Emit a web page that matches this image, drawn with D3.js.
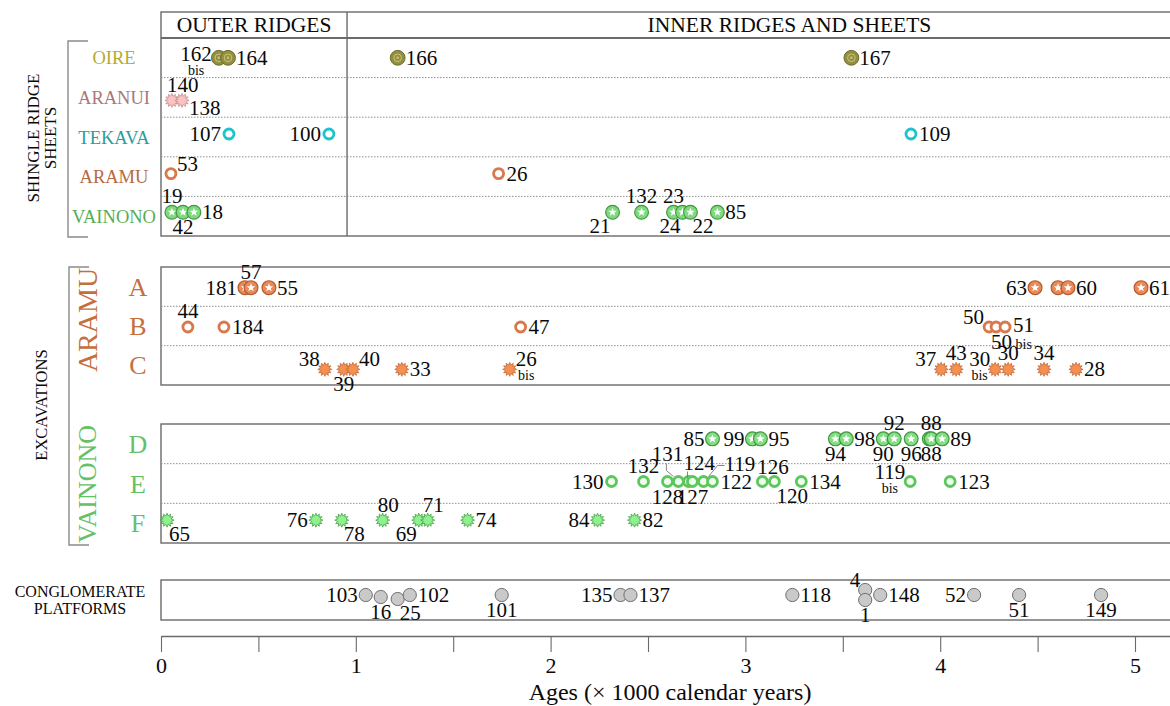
<!DOCTYPE html>
<html><head><meta charset="utf-8">
<script src="https://cdn.jsdelivr.net/npm/d3@7/dist/d3.min.js"></script>
<style>
body{margin:0;background:#fff}
text{font-family:"Liberation Serif","Times New Roman",serif;fill:#0a0a0a}
</style>
</head><body>
<svg id="c" width="1170" height="706"></svg>
<script>
// ---------------- DATA ----------------
const columnHeads = ['OUTER RIDGES', 'INNER RIDGES AND SHEETS'];
const outerInnerLimit = 0.955;            // age (ka) separating outer from inner ridges
const shingleRows = ['OIRE', 'ARANUI', 'TEKAVA', 'ARAMU', 'VAINONO'];
const aramuRows = ['A', 'B', 'C'];
const vainonoRows = ['D', 'E', 'F'];
const axisTicks = [0, 0.5, 1, 1.5, 2, 2.5, 3, 3.5, 4, 4.5, 5, 5.5];
const axisTitle = 'Ages (\u00d7 1000 calendar years)';

// shingle ridge sheets
const oireIds   = ['162bis', '164', '166', '167'];
const oireAges  = [0.297, 0.344, 1.215, 3.544];
const aranuiIds  = ['140', '138'];
const aranuiAges = [0.056, 0.108];
const tekavaIds  = ['107', '100', '109'];
const tekavaAges = [0.349, 0.862, 3.85];
const aramuShIds  = ['53', '26'];
const aramuShAges = [0.051, 1.733];
const vainonoShIds  = ['19', '42', '18', '21', '132', '23', '24', '22', '85'];
const vainonoShAges = [0.056, 0.113, 0.169, 2.318, 2.467, 2.631, 2.677, 2.718, 2.856];

// excavations - Aramu
const aIds  = ['181', '57', '55', '63', '60', '60', '61'];
const aAges = [0.431, 0.462, 0.554, 4.487, 4.605, 4.656, 5.031];
const bIds  = ['44', '184', '47', '50', '50bis', '51'];
const bAges = [0.138, 0.323, 1.846, 4.251, 4.287, 4.333];
const cIds  = ['38', '39', '40', '33', '26bis', '37', '43', '30bis', '30', '34', '28'];
const cAges = [0.841, 0.938, 0.985, 1.236, 1.79, 4.005, 4.082, 4.282, 4.349, 4.533, 4.697];

// excavations - Vainono
const dIds  = ['85', '99', '95', '94', '98', '90', '92', '96', '88', '88', '89'];
const dAges = [2.831, 3.036, 3.077, 3.462, 3.518, 3.708, 3.764, 3.851, 3.944, 3.954, 4.01];
const eIds  = ['130', '132', '128', '131', '124', '127', '119', '122', '126', '120', '134', '119bis', '123'];
const eAges = [2.313, 2.477, 2.6, 2.656, 2.708, 2.728, 2.785, 2.831, 3.087, 3.149, 3.287, 3.846, 4.051];
const fIds  = ['65', '76', '78', '80', '69', '71', '74', '84', '82'];
const fAges = [0.031, 0.795, 0.928, 1.138, 1.323, 1.369, 1.574, 2.241, 2.431];

// conglomerate platforms
const congIds  = ['103', '16', '25', '102', '101', '135', '137', '118', '4', '1', '148', '52', '51', '149'];
const congAges = [1.051, 1.128, 1.215, 1.277, 1.749, 2.359, 2.41, 3.241, 3.615, 3.615, 3.692, 4.174, 4.405, 4.826];

// ---------------- LABEL LAYOUT (placement codes, not data) ----------------
const oirePos = ['lm', 'r', 'r', 'r'];
const aranuiPos = ['ar', 'rd'];
const tekavaPos = ['l', 'l', 'r'];
const aramuShPos = ['ru', 'r'];
const vainonoShPos = ['a', 'b', 'r', 'bl', 'a', 'a', 'bl', 'br', 'r'];
const aPos = ['l', 'a', 'r', 'l', 'n', 'r', 'r'];
const bPos = ['a', 'r', 'r', 'lu', 'bi', 'rr'];
const cPos = ['lu', 'b', 'ru', 'r', 'ru', 'lu', 'a', 'lu', 'a', 'a', 'r'];
const dPos = ['l', 'l', 'r', 'b', 'r', 'b', 'a', 'b', 'bb', 'a', 'r'];
const ePos = ['l', 'a', 'b', 'L', 'V', 'b', 'R', 'r', 'ar', 'br', 'r', 'lu', 'r'];
const fPos = ['br', 'l', 'br', 'ar', 'bl', 'ar', 'r', 'l', 'r'];
const congPos = ['l', 'b', 'br', 'r', 'b', 'l', 'r', 'r', 'lu', 'b', 'r', 'l', 'b', 'b'];
const congNudge = [0, 2, 4, 0, 0, 0, 0, 0, -5, 5, 0, 0, 0, 0];

// ---------------- SCALES & LAYOUT ----------------
const svg = d3.select('#c');
const X0 = 161, PX = 194.8;
const x = d3.scaleLinear().domain([0, 5.6]).range([X0, X0 + 5.6 * PX]);
const XR = x(5.6);

const yShingle = d3.scaleBand().domain(shingleRows).range([38, 236]);
const yAramu = d3.scaleBand().domain(aramuRows).range([267, 385]);
const yVainono = d3.scaleBand().domain(vainonoRows).range([424, 543]);
const yCong = d3.scaleBand().domain(['CONG']).range([580, 620]);

const BORDER = '#6a6a6a';
function frame(top, bottom) {
  svg.append('rect').attr('x', X0).attr('y', top).attr('width', XR - X0).attr('height', bottom - top)
    .attr('fill', 'none').attr('stroke', BORDER).attr('stroke-width', 1.4);
}
function dividers(band) {
  band.domain().slice(1).forEach(r => {
    svg.append('line').attr('x1', X0).attr('x2', XR).attr('y1', band(r)).attr('y2', band(r))
      .attr('stroke', '#8f8f8f').attr('stroke-width', 1).attr('stroke-dasharray', '1.5,1.5');
  });
}

// shingle panel
frame(12, 236);
svg.append('line').attr('x1', X0).attr('x2', XR).attr('y1', 38).attr('y2', 38).attr('stroke', BORDER).attr('stroke-width', 2.2);
dividers(yShingle);
svg.append('line').attr('x1', x(outerInnerLimit)).attr('x2', x(outerInnerLimit)).attr('y1', 12).attr('y2', 236)
  .attr('stroke', BORDER).attr('stroke-width', 1.4);
svg.append('text').attr('x', (X0 + x(outerInnerLimit)) / 2).attr('y', 32).attr('text-anchor', 'middle')
  .style('font-size', '21.5px').text(columnHeads[0]);
svg.append('text').attr('x', (x(outerInnerLimit) + XR) / 2 - 10).attr('y', 32).attr('text-anchor', 'middle')
  .style('font-size', '21.5px').text(columnHeads[1]);

frame(267, 385); dividers(yAramu);
frame(424, 543); dividers(yVainono);
frame(580, 620);

// brackets
function bracket(xb, top, bottom) {
  svg.append('path').attr('d', `M${xb + 20},${top}H${xb}V${bottom}H${xb + 20}`)
    .attr('fill', 'none').attr('stroke', '#8a8a8a').attr('stroke-width', 1.4);
}
bracket(68, 41, 237);
bracket(69, 267, 545);

// row colours
const rowColor = { OIRE: '#b3ac2c', ARANUI: '#a87878', TEKAVA: '#2a9d9d', ARAMU: '#b8683e', VAINONO: '#55ad55' };
const aramuCol = '#c46f3e', vainonoCol = '#66c066';

shingleRows.forEach(r => {
  svg.append('text').attr('x', 114).attr('y', yShingle(r) + yShingle.bandwidth() / 2 + 6.5)
    .attr('text-anchor', 'middle').style('font-size', '18.5px').style('fill', rowColor[r]).text(r);
});
aramuRows.forEach(r => {
  svg.append('text').attr('x', 138).attr('y', yAramu(r) + yAramu.bandwidth() / 2 + 9)
    .attr('text-anchor', 'middle').style('font-size', '26px').style('fill', aramuCol).text(r);
});
vainonoRows.forEach(r => {
  svg.append('text').attr('x', 138).attr('y', yVainono(r) + yVainono.bandwidth() / 2 + 9)
    .attr('text-anchor', 'middle').style('font-size', '26px').style('fill', vainonoCol).text(r);
});

function vtext(xp, yp, txt, size, color) {
  svg.append('text').attr('transform', `translate(${xp},${yp}) rotate(-90)`).attr('text-anchor', 'middle')
    .style('font-size', size + 'px').style('fill', color || '#0a0a0a').text(txt);
}
vtext(39, 138, 'SHINGLE RIDGE', 17);
vtext(56, 138, 'SHEETS', 17);
vtext(47, 405, 'EXCAVATIONS', 16.5);
vtext(97, 320, 'ARAMU', 28, aramuCol);
vtext(96, 484, 'VAINONO', 26, vainonoCol);

svg.append('text').attr('x', 80).attr('y', 597).attr('text-anchor', 'middle').style('font-size', '16px').text('CONGLOMERATE');
svg.append('text').attr('x', 80).attr('y', 614).attr('text-anchor', 'middle').style('font-size', '16px').text('PLATFORMS');

// axis
const axis = d3.axisBottom(x).tickValues(axisTicks)
  .tickFormat(d => Number.isInteger(d) ? d : '').tickSize(16).tickSizeOuter(0).tickPadding(5);
const ga = svg.append('g').attr('transform', 'translate(0,636)').call(axis);
ga.select('.domain').attr('stroke', BORDER).attr('stroke-width', 1.4);
ga.selectAll('.tick line').attr('stroke', BORDER).attr('stroke-width', 1.1);
ga.selectAll('.tick text').style('font-family', '"Liberation Serif","Times New Roman",serif').style('font-size', '22px').attr('fill', '#0a0a0a');
svg.append('text').attr('x', 670).attr('y', 700).attr('text-anchor', 'middle').style('font-size', '24px').text(axisTitle);

// ---------------- MARKERS ----------------
function starPath(n, r1, r2, rot) {
  const pts = [];
  for (let i = 0; i < 2 * n; i++) {
    const r = i % 2 ? r2 : r1;
    const a = rot + i * Math.PI / n;
    pts.push([r * Math.sin(a), -r * Math.cos(a)]);
  }
  return 'M' + pts.map(p => p[0].toFixed(2) + ',' + p[1].toFixed(2)).join('L') + 'Z';
}
const markStyles = {
  olive: g => {
    g.append('circle').attr('r', 7.4).attr('fill', '#938f42').attr('stroke', '#6c6a2b').attr('stroke-width', 1);
    g.append('circle').attr('r', 3.8).attr('fill', 'none').attr('stroke', '#cbc472').attr('stroke-width', 1);
    g.append('circle').attr('r', 1.3).attr('fill', '#cbc472');
  },
  ring: (g, c) => g.append('circle').attr('r', 5).attr('fill', c.fill || '#fff').attr('stroke', c.stroke).attr('stroke-width', 2.8),
  starc: (g, c) => {
    g.append('circle').attr('r', 6.9).attr('fill', c.fill).attr('stroke', c.stroke).attr('stroke-width', 1.2);
    g.append('path').attr('d', starPath(5, 4.5, 1.9, 0)).attr('fill', '#fff');
  },
  sun: (g, c) => g.append('path').attr('d', starPath(12, 7, 4.4, 0)).attr('fill', c.fill).attr('stroke', c.stroke).attr('stroke-width', 0.8),
  grey: g => g.append('circle').attr('r', 6.6).attr('fill', '#c9c9c9').attr('stroke', '#6f6f6f').attr('stroke-width', 1)
};

const place = {
  r:  { a: 'start', dx: 8, dy: 7 },
  rr: { a: 'start', dx: 8, dy: 5 },
  l:  { a: 'end', dx: -8, dy: 7 },
  lm: { a: 'end', dx: -7, dy: 3 },
  a:  { a: 'middle', dx: 0, dy: -9 },
  b:  { a: 'middle', dx: 0, dy: 22 },
  bb: { a: 'middle', dx: 2, dy: 22 },
  ar: { a: 'start', dx: -5, dy: -8 },
  bl: { a: 'end', dx: -2, dy: 21 },
  br: { a: 'start', dx: 2, dy: 21 },
  ru: { a: 'start', dx: 6, dy: -3 },
  lu: { a: 'end', dx: -5, dy: -3 },
  rd: { a: 'start', dx: 7, dy: 15 },
  bi: { a: 'start', dx: -5, dy: 22 },
  L:  { a: 'middle', dx: -11, dy: -21, lead: [[-12, -18], [-12, -11], [-5, -5]] },
  V:  { a: 'start', dx: -5, dy: -12, lead: [[-1, -10], [-1, -4]] },
  R:  { a: 'start', dx: 21, dy: -11, lead: [[21, -16], [14, -16], [5, -5]] }
};

const groups = [
  { ids: oireIds, ages: oireAges, pos: oirePos, band: yShingle, row: 'OIRE', mark: 'olive', col: {} },
  { ids: aranuiIds, ages: aranuiAges, pos: aranuiPos, band: yShingle, row: 'ARANUI', mark: 'sun', col: { fill: '#f7c3c3', stroke: '#c98c8c' }, cy: 3 },
  { ids: tekavaIds, ages: tekavaAges, pos: tekavaPos, band: yShingle, row: 'TEKAVA', mark: 'ring', col: { stroke: '#1fc3cb' }, cy: -3 },
  { ids: aramuShIds, ages: aramuShAges, pos: aramuShPos, band: yShingle, row: 'ARAMU', mark: 'ring', col: { stroke: '#d9784b' }, cy: -3 },
  { ids: vainonoShIds, ages: vainonoShAges, pos: vainonoShPos, band: yShingle, row: 'VAINONO', mark: 'starc', col: { fill: '#7fd97f', stroke: '#3f983f' }, cy: -4 },
  { ids: aIds, ages: aAges, pos: aPos, band: yAramu, row: 'A', mark: 'starc', col: { fill: '#ea8a58', stroke: '#b35c30' }, cy: 1 },
  { ids: bIds, ages: bAges, pos: bPos, band: yAramu, row: 'B', mark: 'ring', col: { stroke: '#d9784b' }, cy: 1 },
  { ids: cIds, ages: cAges, pos: cPos, band: yAramu, row: 'C', mark: 'sun', col: { fill: '#f5904f', stroke: '#c0683a' }, cy: 4 },
  { ids: dIds, ages: dAges, pos: dPos, band: yVainono, row: 'D', mark: 'starc', col: { fill: '#84dc84', stroke: '#3f983f' }, cy: -5 },
  { ids: eIds, ages: eAges, pos: ePos, band: yVainono, row: 'E', mark: 'ring', col: { stroke: '#5cc85c', fill: '#effcef' }, cy: -2 },
  { ids: fIds, ages: fAges, pos: fPos, band: yVainono, row: 'F', mark: 'sun', col: { fill: '#8ef08e', stroke: '#48a048' }, cy: -3 },
  { ids: congIds, ages: congAges, pos: congPos, band: yCong, row: 'CONG', mark: 'grey', col: {}, cy: -5, nudge: congNudge }
];

groups.forEach(grp => {
  const yc = grp.band(grp.row) + grp.band.bandwidth() / 2 + (grp.cy || 0);
  const pts = grp.ids.map((id, i) => ({ id, age: grp.ages[i], p: grp.pos[i], ny: grp.nudge ? grp.nudge[i] : 0 }));
  const layer = svg.append('g');
  const marks = layer.selectAll('g.m').data(pts).enter().append('g').attr('class', 'm')
    .attr('transform', d => `translate(${x(d.age)},${yc + d.ny})`);
  marks.each(function () { markStyles[grp.mark](d3.select(this), grp.col); });

  // labels
  pts.forEach(d => {
    const pl = place[d.p];
    if (!pl) return;
    const cx = x(d.age), cy = yc + d.ny;
    const isBis = /bis$/.test(d.id);
    const main = d.id.replace(/bis$/, '');
    if (pl.lead) {
      layer.append('path').attr('d', 'M' + pl.lead.map(q => (cx + q[0]) + ',' + (cy + q[1])).join('L'))
        .attr('fill', 'none').attr('stroke', '#777').attr('stroke-width', 0.9);
    }
    const t = layer.append('text').attr('x', cx + pl.dx).attr('y', cy + pl.dy)
      .attr('text-anchor', pl.a).style('font-size', '21px').text(main);
    if (isBis) {
      if (d.p === 'bi') {
        t.append('tspan').style('font-size', '14px').text(' bis');
      } else {
        const bb = t.node().getBBox();
        layer.append('text').attr('x', bb.x + bb.width / 2).attr('y', cy + pl.dy + 14)
          .attr('text-anchor', 'middle').style('font-size', '14px').text('bis');
      }
    }
  });
});
</script>
</body></html>
